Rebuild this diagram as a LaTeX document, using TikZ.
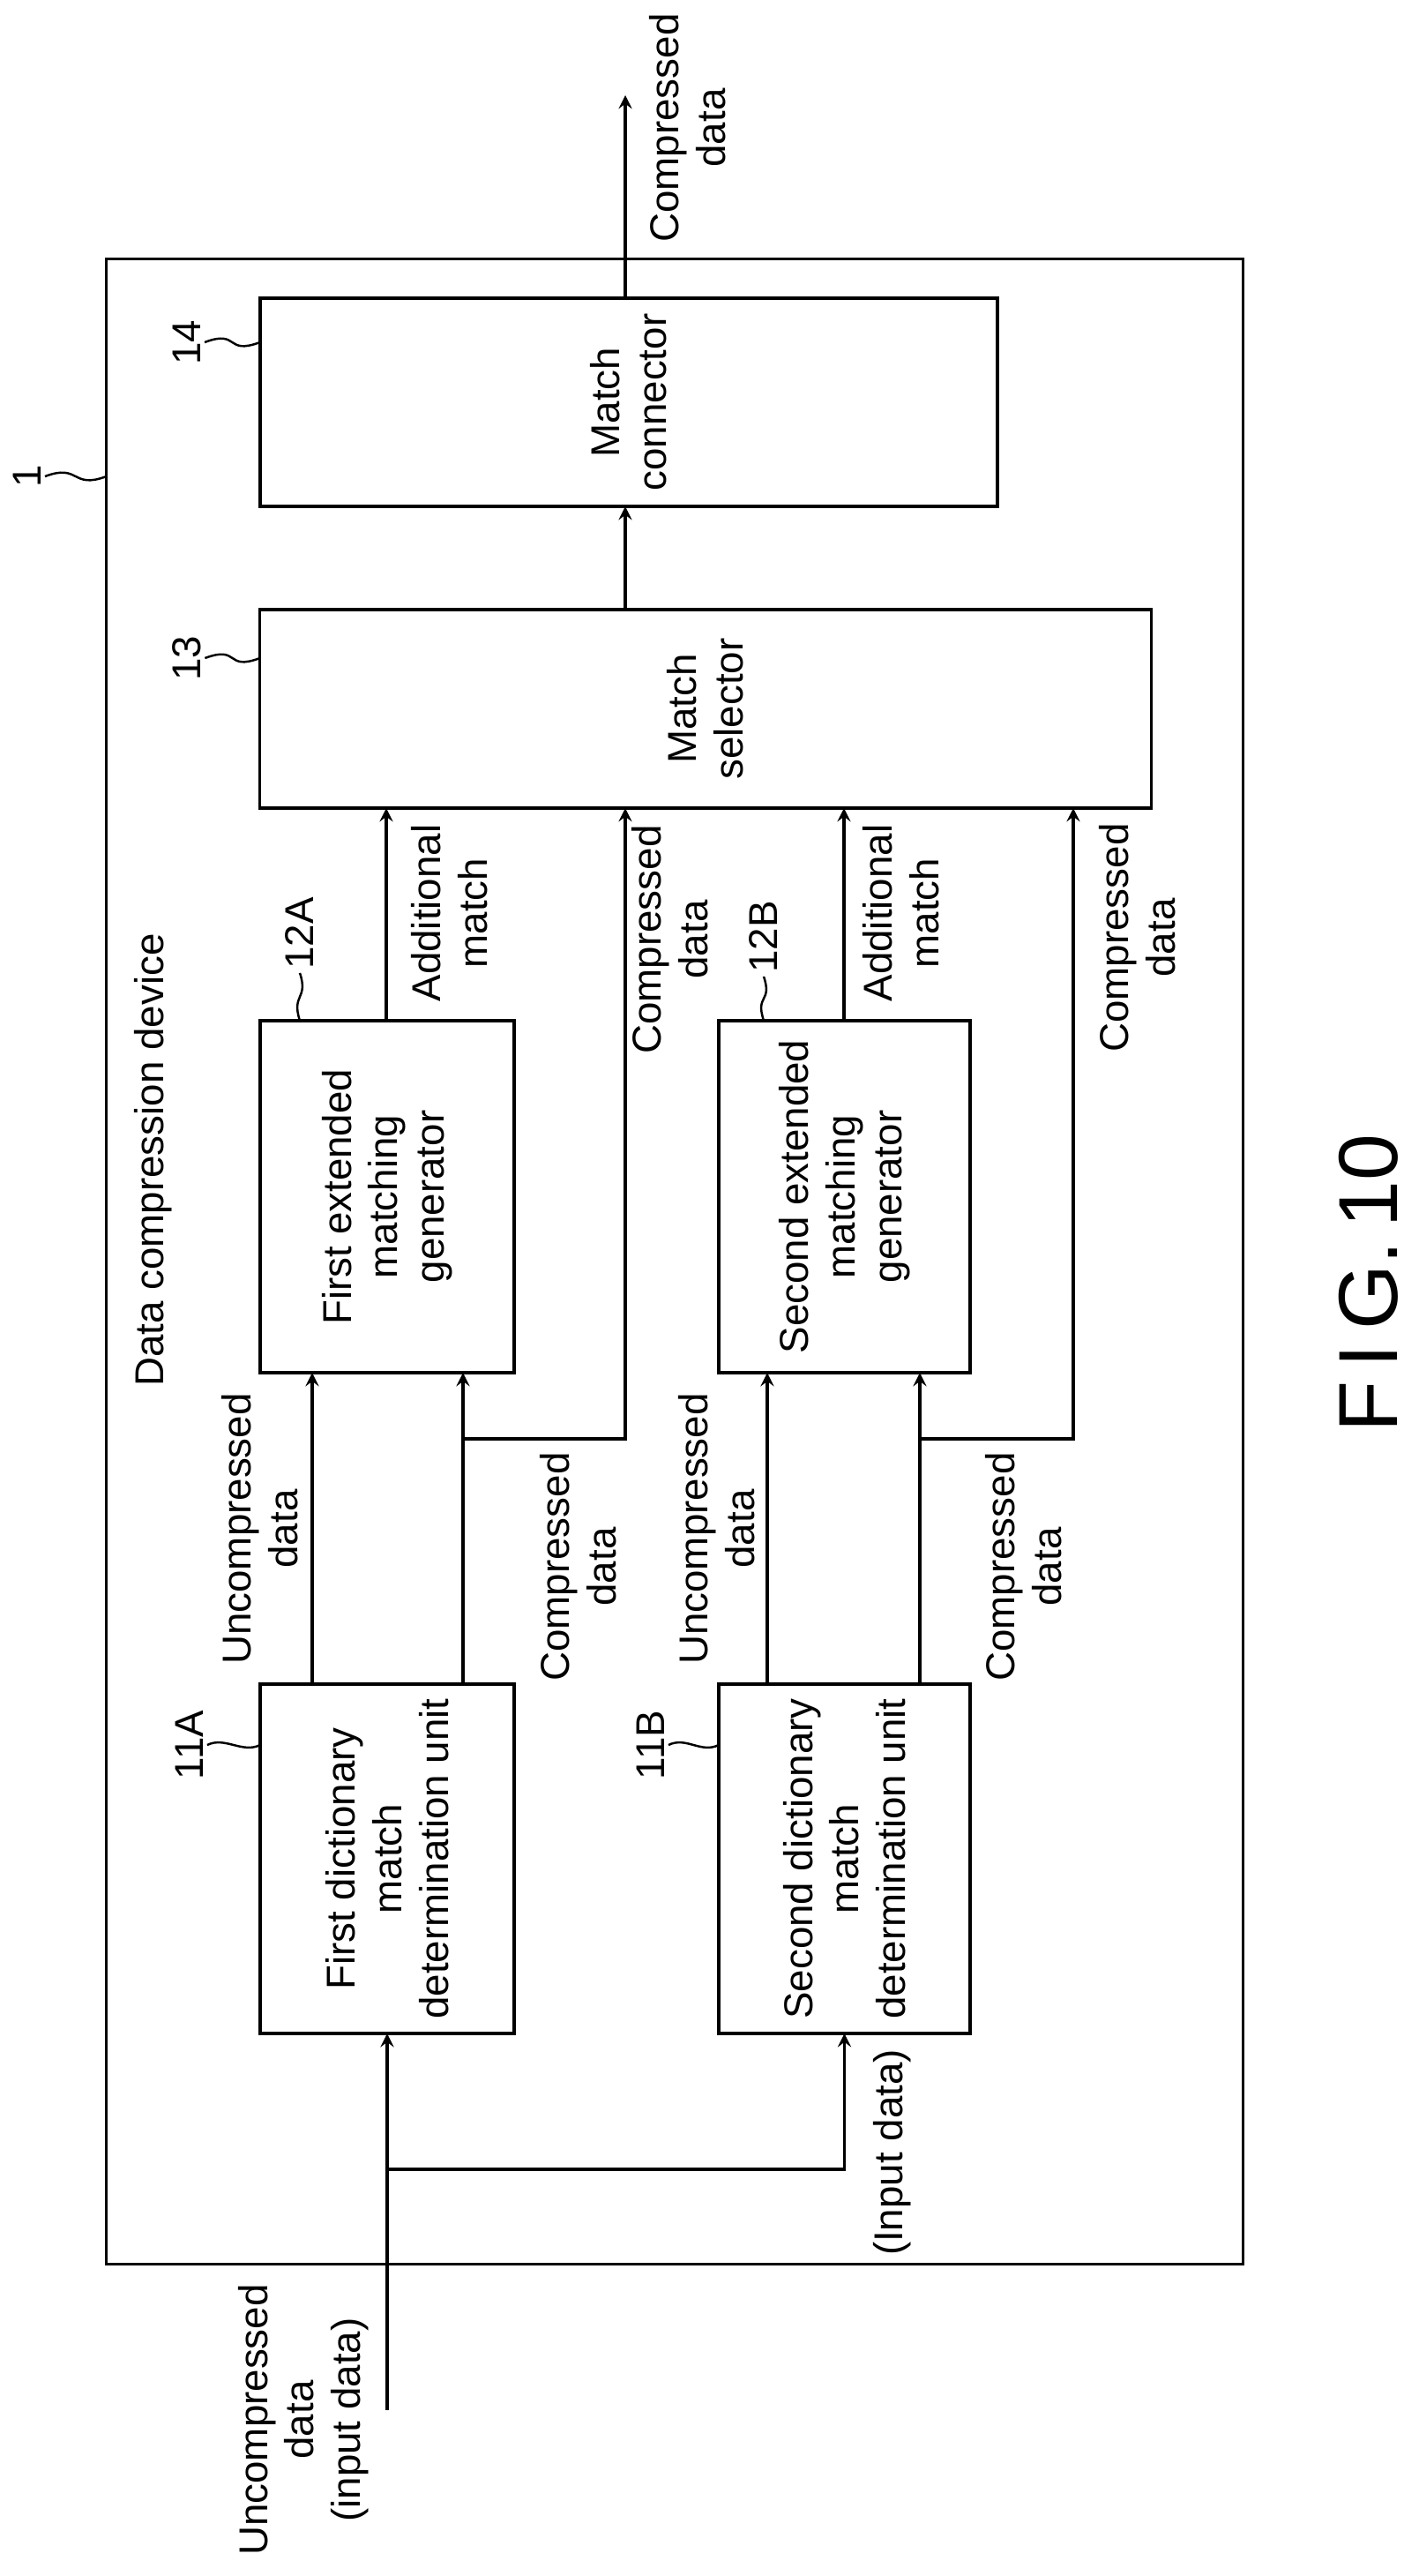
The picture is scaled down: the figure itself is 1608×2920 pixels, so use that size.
\documentclass[tikz,border=0pt]{standalone}
\usepackage{fontspec}
\setmainfont{Liberation Sans}
\usetikzlibrary{shapes.geometric, arrows, calc, positioning}
\tikzstyle{arrow} = [line width=0.9pt,->,>=stealth]
\tikzstyle{unit} = [rectangle, rotate=90, draw=black, line width=1pt, inner sep=0pt, outer sep=0pt, align=center, font=\fontsize{13}{15}\selectfont]
\tikzstyle{lbl} = [rotate=90, align=center, inner sep=1pt, font=\fontsize{13}{15}\selectfont]
\tikzstyle{lead} = [line width=0.7pt]

\begin{document}
\begin{tikzpicture}[x=0.01cm, y=-0.01cm]
	\useasboundingbox (0,0) rectangle (1608,2920);
	% device frame and blocks
	\node (dev) [unit, minimum width=22.72cm, minimum height=12.88cm] at (765,1430) {};
	\node (b14) [unit, minimum width=2.36cm, minimum height=8.36cm] at (713,456) {Match\\connector};
	\node (b13) [unit, minimum width=2.25cm, minimum height=10.10cm] at (800,803.5) {Match\\selector};
	\node (b12A) [unit, minimum width=3.99cm, minimum height=2.88cm] at (439,1356.5) {First extended\\matching\\generator};
	\node (b12B) [unit, minimum width=3.99cm, minimum height=2.85cm] at (957.5,1356.5) {Second extended\\matching\\generator};
	\node (b11A) [unit, minimum width=3.96cm, minimum height=2.88cm] at (439,2107) {First dictionary\\match\\determination unit};
	\node (b11B) [unit, minimum width=3.96cm, minimum height=2.85cm] at (957.5,2107) {Second dictionary\\match\\determination unit};

	% reference numerals
	\node (l1) [lbl] at (31,540) {1};
	\node (l14) [lbl] at (212,388) {14};
	\node (l13) [lbl] at (212,746) {13};
	\node (l12A) [lbl] at (340,1058) {12A};
	\node (l12B) [lbl] at (866,1062) {12B};
	\node (l11A) [lbl] at (215,1978) {11A};
	\node (l11B) [lbl] at (738,1978) {11B};
	\node (ttl) [lbl] at (174,1315) {Data compression device};

	\draw [lead] (l1.south) .. controls +(0.4cm,0.15cm) and +(-0.4cm,-0.15cm) .. (dev.north |- l1);
	\draw [lead] (l14.south) .. controls +(0.4cm,0.15cm) and +(-0.4cm,-0.15cm) .. (b14.north |- l14);
	\draw [lead] (l13.south) .. controls +(0.4cm,0.15cm) and +(-0.4cm,-0.15cm) .. (b13.north |- l13);
	\draw [lead] (l11A.south) .. controls +(0.2cm,0.1cm) and +(-0.2cm,-0.1cm) .. (b11A.north |- l11A);
	\draw [lead] (l11B.south) .. controls +(0.2cm,0.1cm) and +(-0.2cm,-0.1cm) .. (b11B.north |- l11B);
	\draw [lead] (l12A.west) .. controls +(0.1cm,-0.3cm) and +(-0.1cm,0.3cm) .. (b12A.east -| l12A);
	\draw [lead] (l12B.west) .. controls +(0.1cm,-0.3cm) and +(-0.1cm,0.3cm) .. (b12B.east -| l12B);

	% columns and junctions
	\coordinate (cUA) at (354,0);
	\coordinate (cCA) at (525,0);
	\coordinate (cAA) at (438,0);
	\coordinate (cSA) at (709,0);
	\coordinate (cUB) at (870,0);
	\coordinate (cCB) at (1043,0);
	\coordinate (cAB) at (957,0);
	\coordinate (cSB) at (1217,0);
	\coordinate (jA) at (525,1631);
	\coordinate (jB) at (1043,1631);
	\coordinate (src) at (439,2732);
	\coordinate (jin) at (439,2459);
	\coordinate (sink) at (709,108);

	% input
	\draw [arrow] (src) -- (b11A.west);
	\draw [arrow] (jin) -| (b11B.west);
	\node [lbl] at (344,2743) {Uncompressed\\data\\(input data)};
	\node [lbl] at (1012,2440) {(Input data)};

	% first path
	\draw [arrow] (b11A.east -| cUA) -- (b12A.west -| cUA);
	\draw [arrow] (b11A.east -| cCA) -- (b12A.west -| cCA);
	\draw [arrow] (jA) -| (b13.west -| cSA);
	\draw [arrow] (b12A.east -| cAA) -- (b13.west -| cAA);
	\node [lbl] at (295,1733) {Uncompressed\\data};
	\node [lbl] at (656,1776) {Compressed\\data};
	\node [lbl] at (510,1035) {Additional\\match};
	\node [lbl] at (760,1065) {Compressed\\data};

	% second path
	\draw [arrow] (b11B.east -| cUB) -- (b12B.west -| cUB);
	\draw [arrow] (b11B.east -| cCB) -- (b12B.west -| cCB);
	\draw [arrow] (jB) -| (b13.west -| cSB);
	\draw [arrow] (b12B.east -| cAB) -- (b13.west -| cAB);
	\node [lbl] at (813,1733) {Uncompressed\\data};
	\node [lbl] at (1161,1776) {Compressed\\data};
	\node [lbl] at (1022,1035) {Additional\\match};
	\node [lbl] at (1290,1063) {Compressed\\data};

	% output
	\draw [arrow] (b13.east -| cSA) -- (b14.west -| cSA);
	\draw [arrow] (b14.east -| cSA) -- (sink);
	\node [lbl] at (780,145) {Compressed\\data};

	\node (fig) [rotate=90, font=\fontsize{27}{30}\selectfont] at (1552,1455) {F\,I\,G.\,10};
\end{tikzpicture}
\end{document}
